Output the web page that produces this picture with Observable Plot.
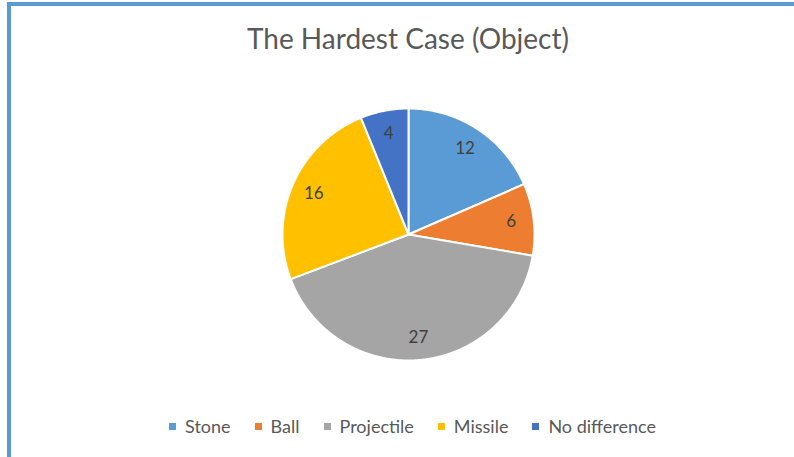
<!DOCTYPE html>
<html>
<head>
<meta charset="utf-8">
<script src="https://cdn.jsdelivr.net/npm/d3@7"></script>
<script src="https://cdn.jsdelivr.net/npm/@observablehq/plot@0.6"></script>
<style>
  html, body { margin: 0; padding: 0; background: #fff; }
  body { width: 794px; height: 457px; overflow: hidden; position: relative; font-family: Lato, "Open Sans", sans-serif; }
  #frame { position: absolute; left: 7px; top: 2px; width: 900px; height: 600px; border-top: 4px solid #5B9BD5; border-left: 4px solid #5B9BD5; box-sizing: border-box; }
  #title { position: absolute; left: 0; top: 22px; width: 816px; text-align: center; font-size: 28px; line-height: 32px; color: #595959; }
  #chart { position: absolute; left: 0; top: 70px; }
  #legend { position: absolute; left: 0; top: 414px; width: 825px; display: flex; justify-content: center; font-size: 18px; line-height: 24px; color: #595959; }
  .item { display: flex; align-items: center; margin: 0 12px; }
  .sw { width: 7px; height: 7px; margin-right: 9px; }
</style>
</head>
<body>
<div id="frame"></div>
<div id="title">The Hardest Case (Object)</div>
<div id="chart"></div>
<div id="legend"></div>
<script>
const categories = ["Stone", "Ball", "Projectile", "Missile", "No difference"];
const values = [12, 6, 27, 16, 4];
const colors = ["#5B9BD5", "#ED7D31", "#A5A5A5", "#FFC000", "#4472C4"];

const data = categories.map((c, i) => ({category: c, value: values[i], color: colors[i]}));
const arcs = d3.pie().sort(null).value(d => d.value).startAngle(0).endAngle(2 * Math.PI)(data);

// polygon outline of each slice in unit coordinates (y up)
function slicePoints(a) {
  const pts = [{x: 0, y: 0}];
  const n = Math.max(2, Math.ceil((a.endAngle - a.startAngle) / (Math.PI / 360)));
  for (let k = 0; k <= n; k++) {
    const t = a.startAngle + (a.endAngle - a.startAngle) * k / n;
    pts.push({x: Math.sin(t), y: Math.cos(t)});
  }
  pts.push({x: 0, y: 0});
  return pts;
}

const labelR = 0.82;
const labels = arcs.map(a => {
  const m = (a.startAngle + a.endAngle) / 2;
  return {x: labelR * Math.sin(m), y: labelR * Math.cos(m), text: String(a.data.value)};
});

const W = 794, H = 330;
const plot = Plot.plot({
  width: W,
  height: H,
  marginLeft: 282,
  marginRight: W - 534,
  marginTop: 38,
  marginBottom: H - 38 - 252,
  x: {domain: [-1, 1], axis: null},
  y: {domain: [-1, 1], axis: null},
  style: {background: "transparent", overflow: "visible"},
  marks: [
    ...arcs.map(a => Plot.line(slicePoints(a), {x: "x", y: "y", fill: a.data.color, stroke: "#fff", strokeWidth: 2, strokeLinejoin: "round"})),
    Plot.text(labels, {x: "x", y: "y", text: "text", fill: "#404040", fontSize: 17, fontFamily: "Lato, 'Open Sans', sans-serif"})
  ]
});
document.getElementById("chart").appendChild(plot);

const legend = document.getElementById("legend");
data.forEach(d => {
  const it = document.createElement("div");
  it.className = "item";
  const sw = document.createElement("span");
  sw.className = "sw";
  sw.style.background = d.color;
  const tx = document.createElement("span");
  tx.textContent = d.category;
  it.appendChild(sw);
  it.appendChild(tx);
  legend.appendChild(it);
});
</script>
</body>
</html>
